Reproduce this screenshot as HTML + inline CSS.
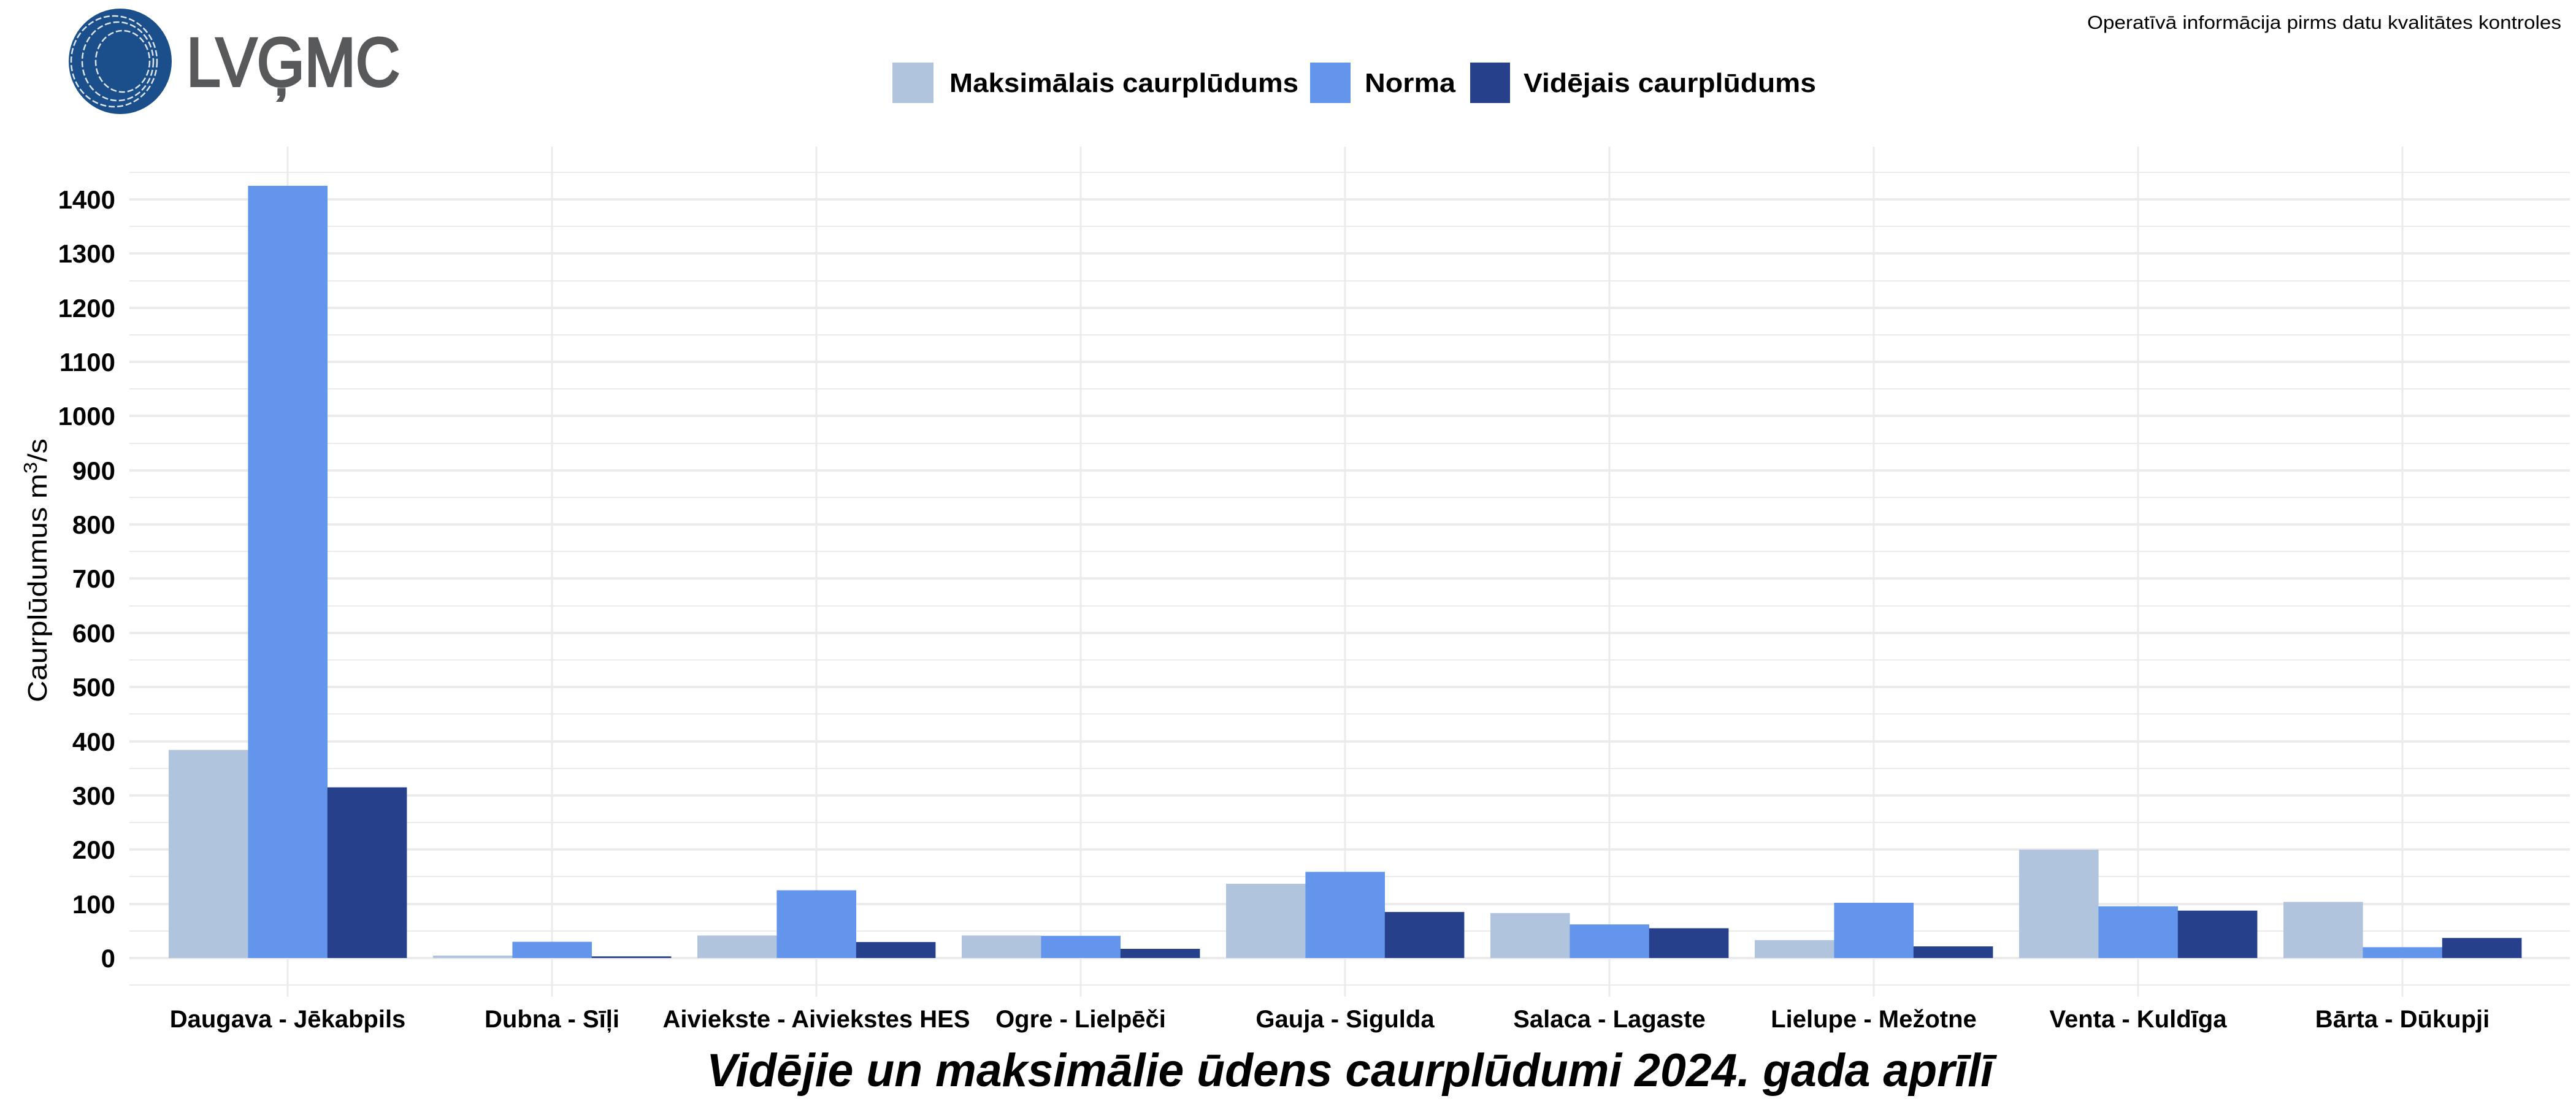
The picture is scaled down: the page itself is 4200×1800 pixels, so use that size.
<!DOCTYPE html>
<html><head><meta charset="utf-8"><style>
html,body{margin:0;padding:0;background:#fff;}
svg{display:block;}
text{font-family:"Liberation Sans",Arial,sans-serif;}
</style></head><body>
<svg width="4200" height="1800" viewBox="0 0 4200 1800" xmlns="http://www.w3.org/2000/svg">
<rect width="4200" height="1800" fill="#fff"/>
<!-- logo -->
<ellipse cx="196" cy="100" rx="84" ry="86" fill="#1a4f8b"/>
<g fill="none" stroke="#ffffff" stroke-width="2.5" stroke-dasharray="10 4" opacity="0.85">
<ellipse cx="200" cy="100" rx="44" ry="50"/>
<ellipse cx="192" cy="100" rx="58" ry="64"/>
<ellipse cx="186" cy="100" rx="70" ry="74"/>
</g>
<text x="304" y="140" font-size="112" fill="#58595b" stroke="#58595b" stroke-width="4" textLength="348" lengthAdjust="spacingAndGlyphs">LVĢMC</text>
<!-- top-right note -->
<text x="4176" y="47" font-size="31" text-anchor="end" textLength="773" lengthAdjust="spacingAndGlyphs">Operatīvā informācija pirms datu kvalitātes kontroles</text>
<!-- legend -->
<rect x="1455" y="102" width="67" height="66" fill="#b0c4de"/>
<text x="1548" y="150" font-size="44" font-weight="bold" textLength="569" lengthAdjust="spacingAndGlyphs">Maksimālais caurplūdums</text>
<rect x="2136" y="102" width="66" height="66" fill="#6495ed"/>
<text x="2225" y="150" font-size="44" font-weight="bold" textLength="148" lengthAdjust="spacingAndGlyphs">Norma</text>
<rect x="2397" y="102" width="65" height="66" fill="#27408b"/>
<text x="2484" y="150" font-size="44" font-weight="bold" textLength="477" lengthAdjust="spacingAndGlyphs">Vidējais caurplūdums</text>
<!-- grid -->
<g stroke="#ebebeb">
<g stroke-width="2">
<line x1="211" x2="4190" y1="1606" y2="1606"/>
<line x1="211" x2="4190" y1="1518" y2="1518"/>
<line x1="211" x2="4190" y1="1429" y2="1429"/>
<line x1="211" x2="4190" y1="1341" y2="1341"/>
<line x1="211" x2="4190" y1="1253" y2="1253"/>
<line x1="211" x2="4190" y1="1164" y2="1164"/>
<line x1="211" x2="4190" y1="1076" y2="1076"/>
<line x1="211" x2="4190" y1="988" y2="988"/>
<line x1="211" x2="4190" y1="899" y2="899"/>
<line x1="211" x2="4190" y1="811" y2="811"/>
<line x1="211" x2="4190" y1="723" y2="723"/>
<line x1="211" x2="4190" y1="634" y2="634"/>
<line x1="211" x2="4190" y1="546" y2="546"/>
<line x1="211" x2="4190" y1="458" y2="458"/>
<line x1="211" x2="4190" y1="369" y2="369"/>
<line x1="211" x2="4190" y1="281" y2="281"/>
</g>
<g stroke-width="4">
<line x1="211" x2="4190" y1="1562" y2="1562"/>
<line x1="211" x2="4190" y1="1474" y2="1474"/>
<line x1="211" x2="4190" y1="1385" y2="1385"/>
<line x1="211" x2="4190" y1="1297" y2="1297"/>
<line x1="211" x2="4190" y1="1209" y2="1209"/>
<line x1="211" x2="4190" y1="1120" y2="1120"/>
<line x1="211" x2="4190" y1="1032" y2="1032"/>
<line x1="211" x2="4190" y1="943" y2="943"/>
<line x1="211" x2="4190" y1="855" y2="855"/>
<line x1="211" x2="4190" y1="767" y2="767"/>
<line x1="211" x2="4190" y1="678" y2="678"/>
<line x1="211" x2="4190" y1="590" y2="590"/>
<line x1="211" x2="4190" y1="502" y2="502"/>
<line x1="211" x2="4190" y1="413" y2="413"/>
<line x1="211" x2="4190" y1="325" y2="325"/>
</g>
<g stroke-width="3">
<line x1="469" x2="469" y1="239" y2="1625"/>
<line x1="900" x2="900" y1="239" y2="1625"/>
<line x1="1331" x2="1331" y1="239" y2="1625"/>
<line x1="1762" x2="1762" y1="239" y2="1625"/>
<line x1="2193" x2="2193" y1="239" y2="1625"/>
<line x1="2624" x2="2624" y1="239" y2="1625"/>
<line x1="3055" x2="3055" y1="239" y2="1625"/>
<line x1="3486" x2="3486" y1="239" y2="1625"/>
<line x1="3917" x2="3917" y1="239" y2="1625"/>
</g>
</g>
<!-- y tick labels -->
<g font-size="42" font-weight="bold" text-anchor="end">
<text x="188" y="1577">0</text>
<text x="188" y="1489">100</text>
<text x="188" y="1400">200</text>
<text x="188" y="1312">300</text>
<text x="188" y="1224">400</text>
<text x="188" y="1135">500</text>
<text x="188" y="1047">600</text>
<text x="188" y="958">700</text>
<text x="188" y="870">800</text>
<text x="188" y="782">900</text>
<text x="188" y="693">1000</text>
<text x="188" y="605">1100</text>
<text x="188" y="517">1200</text>
<text x="188" y="428">1300</text>
<text x="188" y="340">1400</text>
</g>
<!-- y title -->
<text transform="translate(76,1145) rotate(-90)" font-size="44" textLength="430" lengthAdjust="spacingAndGlyphs">Caurplūdumus  m<tspan dy="-16" font-size="31">3</tspan><tspan dy="16">/s</tspan></text>
<!-- bars -->
<g>
<rect x="275" y="1222.7" width="129.6" height="339.3" fill="#b0c4de"/>
<rect x="404.4" y="302.9" width="129.6" height="1259.1" fill="#6495ed"/>
<rect x="533.8" y="1283.7" width="129.6" height="278.3" fill="#27408b"/>
<rect x="706" y="1558" width="129.6" height="4" fill="#b0c4de"/>
<rect x="835.4" y="1535.5" width="129.6" height="26.5" fill="#6495ed"/>
<rect x="964.8" y="1559.3" width="129.6" height="2.7" fill="#27408b"/>
<rect x="1137" y="1525.3" width="129.6" height="36.7" fill="#b0c4de"/>
<rect x="1266.4" y="1451.5" width="129.6" height="110.5" fill="#6495ed"/>
<rect x="1395.8" y="1535.9" width="129.6" height="26.1" fill="#27408b"/>
<rect x="1568" y="1525.3" width="129.6" height="36.7" fill="#b0c4de"/>
<rect x="1697.4" y="1525.8" width="129.6" height="36.2" fill="#6495ed"/>
<rect x="1826.8" y="1547" width="129.6" height="15" fill="#27408b"/>
<rect x="1999" y="1440.9" width="129.6" height="121.1" fill="#b0c4de"/>
<rect x="2128.4" y="1421.5" width="129.6" height="140.5" fill="#6495ed"/>
<rect x="2257.8" y="1486.9" width="129.6" height="75.1" fill="#27408b"/>
<rect x="2430" y="1488.7" width="129.6" height="73.3" fill="#b0c4de"/>
<rect x="2559.4" y="1507.2" width="129.6" height="54.8" fill="#6495ed"/>
<rect x="2688.8" y="1513.4" width="129.6" height="48.6" fill="#27408b"/>
<rect x="2861" y="1532.8" width="129.6" height="29.2" fill="#b0c4de"/>
<rect x="2990.4" y="1471.9" width="129.6" height="90.1" fill="#6495ed"/>
<rect x="3119.8" y="1543" width="129.6" height="19" fill="#27408b"/>
<rect x="3292" y="1385.3" width="129.6" height="176.7" fill="#b0c4de"/>
<rect x="3421.4" y="1477.6" width="129.6" height="84.4" fill="#6495ed"/>
<rect x="3550.8" y="1484.7" width="129.6" height="77.3" fill="#27408b"/>
<rect x="3723" y="1470.5" width="129.6" height="91.5" fill="#b0c4de"/>
<rect x="3852.4" y="1544.3" width="129.6" height="17.7" fill="#6495ed"/>
<rect x="3981.8" y="1529.3" width="129.6" height="32.7" fill="#27408b"/>
</g>
<!-- x labels -->
<g font-size="40" font-weight="bold" text-anchor="middle">
<text x="469" y="1675">Daugava - Jēkabpils</text>
<text x="900" y="1675">Dubna - Sīļi</text>
<text x="1331" y="1675">Aiviekste - Aiviekstes HES</text>
<text x="1762" y="1675">Ogre - Lielpēči</text>
<text x="2193" y="1675">Gauja - Sigulda</text>
<text x="2624" y="1675">Salaca - Lagaste</text>
<text x="3055" y="1675">Lielupe - Mežotne</text>
<text x="3486" y="1675">Venta - Kuldīga</text>
<text x="3917" y="1675">Bārta - Dūkupji</text>
</g>
<text x="2201" y="1771" font-size="76" font-weight="bold" font-style="italic" text-anchor="middle" textLength="2098" lengthAdjust="spacingAndGlyphs">Vidējie un maksimālie ūdens caurplūdumi 2024. gada aprīlī</text>
</svg>
</body></html>
